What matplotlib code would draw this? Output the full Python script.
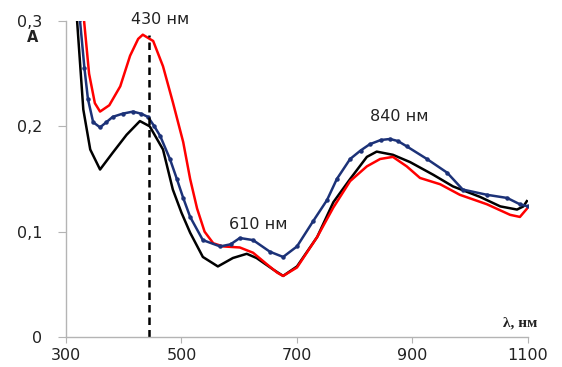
import matplotlib
matplotlib.use("Agg")
import matplotlib.pyplot as plt

# red curve
red_wl = [331, 340, 350, 359, 375, 394, 411, 425, 433, 451, 468, 485, 503, 515, 527,
          540, 555, 572, 601, 624, 648, 666, 676, 700, 735, 763, 792, 821, 844, 866, 890,
          913, 948, 982, 1029, 1069, 1086, 1100]
red_a = [0.302, 0.250, 0.222, 0.214, 0.220, 0.238, 0.267, 0.283, 0.287, 0.281, 0.257,
         0.223, 0.185, 0.150, 0.122, 0.100, 0.089, 0.086, 0.085, 0.080, 0.069, 0.061,
         0.058, 0.066, 0.095, 0.123, 0.148, 0.162, 0.169, 0.171, 0.162, 0.151, 0.145,
         0.135, 0.126, 0.116, 0.114, 0.123]

# blue curve (with markers)
blue_wl = [324, 332, 338, 347, 359, 370, 381, 398, 416, 430, 442, 453, 463, 480, 492,
           503, 515, 537, 567, 585, 601, 624, 653, 676, 700, 728, 752, 769, 792, 810,
           826, 845, 861, 875, 890, 925, 960, 987, 1029, 1064, 1086, 1100]
blue_a = [0.302, 0.255, 0.226, 0.204, 0.199, 0.204, 0.209, 0.212, 0.214, 0.212, 0.209,
          0.200, 0.191, 0.169, 0.150, 0.132, 0.114, 0.092, 0.086, 0.088, 0.094, 0.092,
          0.081, 0.076, 0.086, 0.110, 0.130, 0.150, 0.169, 0.177, 0.183, 0.187, 0.188,
          0.186, 0.181, 0.169, 0.156, 0.140, 0.135, 0.132, 0.126, 0.124]

# black curve
black_wl = [319, 325, 330, 342, 359, 381, 405, 428, 445, 468, 485, 500, 515, 537,
            563, 589, 613, 630, 659, 676, 700, 735, 763, 792, 821, 838, 866, 896, 936,
            970, 1017, 1052, 1081, 1092, 1098]
black_a = [0.302, 0.255, 0.216, 0.178, 0.159, 0.175, 0.192, 0.205, 0.200, 0.178, 0.140,
           0.118, 0.099, 0.076, 0.067, 0.075, 0.079, 0.075, 0.064, 0.058, 0.067,
           0.095, 0.128, 0.150, 0.171, 0.176, 0.173, 0.166, 0.154, 0.143, 0.133, 0.124,
           0.121, 0.124, 0.129]

x_ticks = [300, 500, 700, 900, 1100]
y_ticks = [0, 0.1, 0.2, 0.3]
y_labels = ["0", "0,1", "0,2", "0,3"]

peak_wl = 443
peak_a = 0.287

fig = plt.figure(figsize=(5.62, 3.67), dpi=100)
ax = fig.add_axes([0.1174, 0.0817, 0.8221, 0.8611])

ax.plot(black_wl, black_a, color="black", lw=1.8)
ax.plot(red_wl, red_a, color="#ff0000", lw=1.8)
ax.plot(blue_wl, blue_a, color="#1c3278", lw=1.8, marker="o", markersize=2.2)

ax.plot([peak_wl, peak_wl], [0, peak_a], color="black", lw=1.8, ls=(0, (3, 2)))

ax.set_xlim(300, 1100)
ax.set_ylim(0, 0.3)
ax.set_xticks(x_ticks)
ax.set_xticklabels([str(v) for v in x_ticks])
ax.set_yticks(y_ticks)
ax.set_yticklabels(y_labels)

for side in ["top", "right"]:
    ax.spines[side].set_visible(False)
for side in ["left", "bottom"]:
    ax.spines[side].set_color("#b4b4b4")
    ax.spines[side].set_linewidth(1.0)

ax.tick_params(axis="y", direction="out", length=6, color="#b4b4b4",
               labelsize=11.5, pad=11, labelcolor="#222222")
ax.tick_params(axis="x", direction="out", length=4, color="#b4b4b4",
               labelsize=11.5, pad=4, labelcolor="#222222")

ax.text(412, 0.301, "430 нм", fontsize=11.5, ha="left", va="center", color="#222222")
ax.text(582, 0.107, "610 нм", fontsize=11.5, ha="left", va="center", color="#222222")
ax.text(826, 0.209, "840 нм", fontsize=11.5, ha="left", va="center", color="#222222")

fig.text(33 / 562, 1 - 38 / 367, "A", fontsize=10.5, fontweight="bold", ha="center",
         va="center", color="#222222")
fig.text(520 / 562, 1 - 323 / 367, "λ, нм", fontsize=11, fontweight="bold",
         family="Liberation Serif", ha="center", va="center", color="#222222")

fig.savefig("out.png", dpi=100)
